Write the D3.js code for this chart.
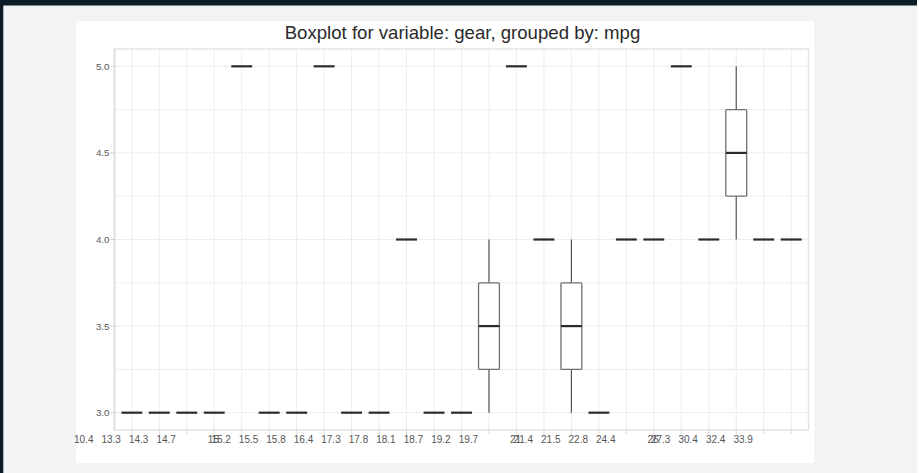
<!DOCTYPE html>
<html>
<head>
<meta charset="utf-8">
<script src="https://cdn.jsdelivr.net/npm/d3@7"></script>
<style>
  html, body { margin: 0; padding: 0; background: #ffffff; }
  svg { display: block; font-family: "Liberation Sans", Arial, Helvetica, sans-serif; }
</style>
</head>
<body>
<svg id="chart" width="919" height="473"></svg>
<script>
// ---- data ----
const mpgCategories = ["10.4","13.3","14.3","14.7","15","15.2","15.5","15.8","16.4","17.3",
  "17.8","18.1","18.7","19.2","19.7","21","21.4","21.5","22.8","24.4","26","27.3","30.4","32.4","33.9"];
const gearValues = [[3,3],[3],[3],[3],[5],[3,3],[3],[5],[3],[3],
  [4],[3],[3],[4,3],[5],[4,4],[3,4],[3],[4,4],[4],[5],[4],[4,5],[4],[4]];
const yTickValues = [3.0, 3.5, 4.0, 4.5, 5.0];
const yGridValues = [3.0, 3.25, 3.5, 3.75, 4.0, 4.25, 4.5, 4.75, 5.0];
const titleText = "Boxplot for variable: gear, grouped by: mpg";

// ---- layout ----
const W = 919, H = 473;
const plot = { left: 114.5, right: 808.5, top: 49, bottom: 430 };
const svg = d3.select("#chart");

// frame + backgrounds
svg.append("rect").attr("x", 0).attr("y", 0).attr("width", W).attr("height", H).attr("fill", "#ffffff");
svg.append("rect").attr("x", 0).attr("y", 0).attr("width", 917).attr("height", H).attr("fill", "#f2f3f5");
svg.append("rect").attr("x", 0).attr("y", 0).attr("width", 917).attr("height", 5.5).attr("fill", "#0b1e28");
svg.append("rect").attr("x", 0).attr("y", 0).attr("width", 3.3).attr("height", H).attr("fill", "#0b1e28");
svg.append("rect").attr("x", 76).attr("y", 21).attr("width", 738).attr("height", 442).attr("fill", "#ffffff");

// scales
const x = d3.scaleLinear().domain([-0.63, mpgCategories.length - 1 + 0.63]).range([plot.left, plot.right]);
const step = x(1) - x(0);
const y = d3.scaleLinear().domain([2.9, 5.1]).range([plot.bottom, plot.top]);

// gridlines
const g = svg.append("g");
g.selectAll("line.hgrid").data(yGridValues).join("line")
  .attr("class", "hgrid")
  .attr("x1", plot.left).attr("x2", plot.right)
  .attr("y1", d => y(d)).attr("y2", d => y(d))
  .attr("stroke", "#ededed").attr("stroke-width", 1);
g.selectAll("line.vgrid").data(mpgCategories).join("line")
  .attr("class", "vgrid")
  .attr("x1", (d, i) => x(i)).attr("x2", (d, i) => x(i))
  .attr("y1", plot.top).attr("y2", plot.bottom)
  .attr("stroke", "#ededed").attr("stroke-width", 1);

// plot border
svg.append("rect")
  .attr("x", plot.left).attr("y", plot.top)
  .attr("width", plot.right - plot.left).attr("height", plot.bottom - plot.top)
  .attr("fill", "none").attr("stroke", "#e4e4e4").attr("stroke-width", 1.5);
svg.append("line")
  .attr("x1", plot.left).attr("x2", plot.left).attr("y1", plot.top).attr("y2", plot.bottom)
  .attr("stroke", "#dcdcdc").attr("stroke-width", 1.5);

// y axis ticks + labels
const yAxisG = svg.append("g");
yAxisG.selectAll("line").data(yTickValues).join("line")
  .attr("x1", plot.left - 4).attr("x2", plot.left)
  .attr("y1", d => y(d)).attr("y2", d => y(d))
  .attr("stroke", "#d0d0d0").attr("stroke-width", 1);
yAxisG.selectAll("text").data(yTickValues).join("text")
  .attr("x", plot.left - 5).attr("y", d => y(d))
  .attr("dy", "0.35em").attr("text-anchor", "end")
  .attr("font-size", 9.8).attr("fill", "#5a5a5a")
  .text(d => d3.format(".1f")(d));

// x axis ticks
const xAxisG = svg.append("g");
xAxisG.selectAll("line").data(mpgCategories).join("line")
  .attr("x1", (d, i) => x(i)).attr("x2", (d, i) => x(i))
  .attr("y1", plot.bottom).attr("y2", plot.bottom + 4)
  .attr("stroke", "#d8d8d8").attr("stroke-width", 1);
// x tick labels (offset as in the reference rendering)
xAxisG.selectAll("text").data(mpgCategories).join("text")
  .attr("x", (d, i) => x(i) - (Number.isInteger(+d) ? 1.03 : 1.75) * step)
  .attr("y", plot.bottom + 9)
  .attr("dy", "0.35em").attr("text-anchor", "middle")
  .attr("font-size", 10).attr("fill", "#555555")
  .text(d => d);

// boxes
const stats = gearValues.map(v => {
  const s = v.slice().sort(d3.ascending);
  return {
    min: d3.min(s), max: d3.max(s),
    q1: d3.quantile(s, 0.25), med: d3.quantile(s, 0.5), q3: d3.quantile(s, 0.75)
  };
});
const boxW = step * 0.76;
const boxes = svg.append("g").selectAll("g").data(stats).join("g");
boxes.each(function(d, i) {
  const sel = d3.select(this);
  const cx = x(i);
  if (d.max > d.min) {
    sel.append("line").attr("x1", cx).attr("x2", cx).attr("y1", y(d.max)).attr("y2", y(d.q3))
      .attr("stroke", "#555").attr("stroke-width", 1.2);
    sel.append("line").attr("x1", cx).attr("x2", cx).attr("y1", y(d.q1)).attr("y2", y(d.min))
      .attr("stroke", "#555").attr("stroke-width", 1.2);
    sel.append("rect").attr("x", cx - boxW / 2).attr("y", y(d.q3))
      .attr("width", boxW).attr("height", y(d.q1) - y(d.q3))
      .attr("fill", "#ffffff").attr("stroke", "#707070").attr("stroke-width", 1.3).attr("rx", 1);
  }
  sel.append("line").attr("x1", cx - boxW / 2).attr("x2", cx + boxW / 2)
    .attr("y1", y(d.med)).attr("y2", y(d.med))
    .attr("stroke", "#2b2b2b").attr("stroke-width", 2.2);
});

// title
svg.append("text")
  .attr("x", (plot.left + plot.right) / 2 + 1).attr("y", 38.5)
  .attr("text-anchor", "middle")
  .attr("font-size", 18.6).attr("fill", "#2a2a2a")
  .text(titleText);
</script>
</body>
</html>
